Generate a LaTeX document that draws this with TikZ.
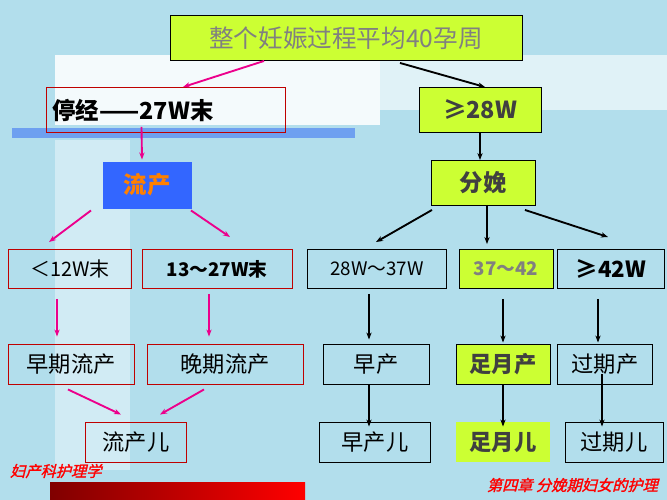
\documentclass[tikz,border=0pt]{standalone}
\usepackage{fontspec}
\setmainfont{Noto Sans CJK SC}
\newfontfamily\slantcjk[FakeSlant=0.25,FakeBold=1.5]{Noto Sans CJK SC}
\usetikzlibrary{arrows.meta,calc}
\definecolor{lime}{RGB}{204,255,51}
\definecolor{bgblue}{RGB}{178,222,236}
\definecolor{barblue}{RGB}{110,160,240}
\definecolor{liuchan}{RGB}{51,102,255}
\begin{document}
\begin{tikzpicture}[x=0.3mm,y=-0.3mm,
  box/.style={draw, line width=0.8pt, inner sep=0pt, font=\fontsize{19}{21}\selectfont},
  redbox/.style={box, draw=red!75!black},
  limebox/.style={box, fill=lime},
  pinkarr/.style={-{Stealth[length=6pt]}, magenta, line width=1.6pt},
  blackarr/.style={-{Stealth[length=6pt]}, black, line width=1.6pt}
]
% background
\fill[bgblue] (0,0) rectangle (667,500);
\fill[white!60!bgblue] (55,55) rectangle (667,110);
\fill[white!85!bgblue] (55,55) rectangle (380,125);
\fill[white!40!bgblue] (55,140) rectangle (130,470);
\fill[barblue] (12,128) rectangle (355,138);
\shade[left color=red!50!black, right color=red] (50,482) rectangle (305,500);

% top level
\node[limebox, minimum width=352*0.3mm, minimum height=45*0.3mm, text=gray, font=\fontsize{21}{23}\selectfont] (whole) at (346,38) {整个妊娠过程平均40孕周};
\node[redbox, minimum width=239*0.3mm, minimum height=45*0.3mm, text width=227*0.3mm, align=left, font=\fontsize{20}{22}\selectfont\bfseries] (tingjing) at (166,110) {停经——27W末};
\node[limebox, minimum width=122*0.3mm, minimum height=45*0.3mm, font=\fontsize{20}{22}\selectfont\bfseries, text=darkgray] (w28) at (480,110) {≥28W};

% second level
\node[box, draw=liuchan, fill=liuchan, minimum width=88*0.3mm, minimum height=46*0.3mm, text=orange, font=\fontsize{20}{22}\selectfont\bfseries] (liu) at (147,185) {流产};
\node[limebox, minimum width=104*0.3mm, minimum height=45*0.3mm, font=\fontsize{20}{22}\selectfont\bfseries, text=darkgray] (fenmian) at (483,183) {分娩};

% weeks
\node[redbox, minimum width=123*0.3mm, minimum height=39*0.3mm, font=\fontsize{17}{19}\selectfont] (w12) at (70,269) {＜12W末};
\node[redbox, minimum width=150*0.3mm, minimum height=39*0.3mm, font=\fontsize{16}{18}\selectfont\bfseries] (w13) at (217,269) {13～27W末};
\node[box, minimum width=139*0.3mm, minimum height=39*0.3mm, font=\fontsize{16}{18}\selectfont] (w2837) at (377,269) {28W～37W};
\node[limebox, minimum width=94*0.3mm, minimum height=39*0.3mm, text=gray, font=\fontsize{16}{18}\selectfont\bfseries] (w3742) at (506,269) {37～42};
\node[box, minimum width=107*0.3mm, minimum height=39*0.3mm, font=\fontsize{19}{21}\selectfont\bfseries] (w42) at (611,269) {≥42W};

% kinds
\node[redbox, minimum width=126*0.3mm, minimum height=40*0.3mm] (zaoqi) at (71,364) {早期流产};
\node[redbox, minimum width=156*0.3mm, minimum height=40*0.3mm] (wanqi) at (225,364) {晚期流产};
\node[box, minimum width=106*0.3mm, minimum height=40*0.3mm] (zaochan) at (376,364) {早产};
\node[limebox, minimum width=94*0.3mm, minimum height=40*0.3mm, text=darkgray, font=\fontsize{19}{21}\selectfont\bfseries] (zuyue) at (503,364) {足月产};
\node[box, minimum width=95*0.3mm, minimum height=40*0.3mm] (guoqi) at (605,364) {过期产};

% babies
\node[redbox, minimum width=101*0.3mm, minimum height=40*0.3mm] (liuer) at (136,442) {流产儿};
\node[box, minimum width=111*0.3mm, minimum height=40*0.3mm] (zaoer) at (375,442) {早产儿};
\node[limebox, draw=none, minimum width=94*0.3mm, minimum height=40*0.3mm, text=darkgray, font=\fontsize{19}{21}\selectfont\bfseries] (zuyueer) at (503,442) {足月儿};
\node[box, minimum width=98*0.3mm, minimum height=40*0.3mm] (guoqier) at (614,442) {过期儿};

% footers
\node[anchor=west, text=red, font=\fontsize{13}{15}\selectfont\slantcjk] (kemu) at (6,471) {妇产科护理学};
\node[anchor=east, text=red, font=\fontsize{13}{15}\selectfont\slantcjk] (zhang) at (662,485) {第四章\ 分娩期妇女的护理};

% arrows
\draw[pinkarr] ($(whole.south)+(-82,0)$) -- ($(tingjing.north)+(17,0)$);
\draw[blackarr] ($(whole.south)+(54,2)$) -- ($(w28.north)+(5,0)$);
\draw[pinkarr] ($(tingjing.south)+(-24.5,-6)$) -- ($(liu.north)+(-5,-2)$);
\draw[blackarr] (w28.south) -- (w28.south |- fenmian.north);
\draw[pinkarr] ($(liu.south)+(-56,2)$) -- ($(w12.north)+(-21,-7)$);
\draw[pinkarr] ($(liu.south)+(44,2)$) -- ($(w13.north)+(13,-12)$);
\draw[blackarr] ($(fenmian.south)+(-51,4)$) -- ($(w2837.north)+(-1,-7)$);
\draw[blackarr] ($(fenmian.south)+(4,-1)$) -- ($(w3742.north)+(-19,-5)$);
\draw[blackarr] ($(fenmian.south)+(42,4)$) -- ($(w42.north)+(-3,-12)$);

\draw[pinkarr] ($(w12.south)+(-13,10)$) -- ($(zaoqi.north)+(-14,-7)$);
\draw[pinkarr] ($(w13.south)+(-8,5)$) -- ($(wanqi.north)+(-16,-7)$);
\draw[blackarr] ($(w2837.south)+(-8,5)$) -- ($(zaochan.north)+(-7,-4)$);
\draw[blackarr] ($(w3742.south)+(-3,10)$) -- ($(zuyue.north)+(0,-1)$);
\draw[blackarr] ($(w42.south)+(-13,10)$) -- ($(guoqi.north)+(-7,-1)$);

\draw[pinkarr] ($(zaoqi.south)+(-3,5)$) -- ($(liuer.north)+(-15,-7)$);
\draw[pinkarr] ($(wanqi.south)+(-21,5)$) -- ($(liuer.north)+(24,-7)$);
\draw[blackarr] ($(zaochan.south)+(-7,0)$) -- ($(zaoer.north)+(-6,5)$);
\draw[blackarr] (zuyue.south) -- ($(zuyueer.north)+(0,5)$);
\draw[blackarr] ($(guoqi.south)+(-3,-10)$) -- ($(guoqier.north)+(-12,5)$);
\end{tikzpicture}
\end{document}
